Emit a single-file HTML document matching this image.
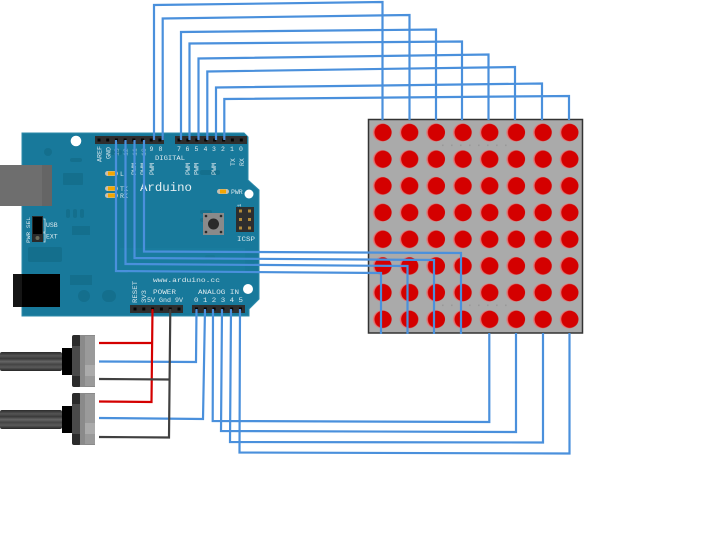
<!DOCTYPE html>
<html><head><meta charset="utf-8"><style>
html,body{margin:0;padding:0;background:#fff;}
svg{display:block;}
.t{font-family:"Liberation Mono","DejaVu Sans Mono",monospace;fill:#dbe9ee;}
</style></head><body>
<svg width="725" height="560" viewBox="0 0 725 560" xmlns="http://www.w3.org/2000/svg">
<defs>
<pattern id="leds" patternUnits="userSpaceOnUse" x="369.35" y="119.15" width="26.69" height="26.69">
<circle cx="12.6" cy="13.35" r="9" fill="#e27575"/>
<circle cx="13.7" cy="13.35" r="8.6" fill="#d40000"/>
</pattern>
<linearGradient id="shaft" x1="0" y1="0" x2="0" y2="1">
<stop offset="0" stop-color="#2a2a2a"/><stop offset="0.2" stop-color="#555"/>
<stop offset="0.35" stop-color="#3a3a3a"/><stop offset="0.5" stop-color="#666"/>
<stop offset="0.65" stop-color="#444"/><stop offset="0.8" stop-color="#5a5a5a"/>
<stop offset="1" stop-color="#262626"/></linearGradient>
</defs>

<!-- Arduino board -->
<polygon points="22,133 244,133 248,137 248,180 259,190 259,299 249,309 249,316 22,316" fill="#18799b" stroke="#2d8aaa" stroke-width="1"/>
<g fill="#146f8d">
<rect x="63" y="173" width="20" height="12" rx="1"/>
<rect x="28" y="247" width="34" height="15" rx="2"/>
<rect x="72" y="226" width="18" height="9"/>
<rect x="70" y="275" width="22" height="10"/>
<rect x="66" y="209" width="4" height="9" rx="2"/><rect x="73" y="209" width="4" height="9" rx="2"/><rect x="80" y="209" width="4" height="9" rx="2"/>
<circle cx="48" cy="152" r="4"/>
<rect x="78" y="290" width="12" height="12" rx="6"/><rect x="102" y="290" width="14" height="12" rx="6"/>
<rect x="110" y="150" width="12" height="5" rx="2"/><rect x="70" y="158" width="12" height="4" rx="2"/>
<rect x="200" y="170" width="20" height="5" rx="2"/><rect x="205" y="255" width="10" height="5" rx="2"/>
<rect x="200" y="210" width="12" height="4" rx="2"/><rect x="200" y="218" width="12" height="4" rx="2"/>
</g>
<rect x="120" y="248" width="125" height="25" fill="#1b7fa0" opacity="0.6"/>
<circle cx="76" cy="141" r="5.3" fill="#fff"/>
<circle cx="249" cy="194" r="4.5" fill="#fff"/>
<circle cx="248" cy="289" r="5" fill="#fff"/>

<!-- USB & power jack (on top of board) -->
<rect x="0" y="165" width="52" height="41" fill="#6e6e6e"/>
<rect x="42" y="165" width="10" height="41" fill="#656565"/>
<rect x="13" y="274" width="47" height="33" fill="#000"/>
<rect x="13" y="274" width="9" height="33" fill="#151515"/>

<!-- headers -->
<rect x="95" y="136" width="69" height="8" fill="#2e2e2e"/>
<rect x="175" y="136" width="72" height="8" fill="#2e2e2e"/>
<g fill="#050505">
<rect x="97.5" y="138.5" width="3" height="3"/><rect x="106.2" y="138.5" width="3" height="3"/><rect x="114.9" y="138.5" width="3" height="3"/><rect x="123.6" y="138.5" width="3" height="3"/><rect x="132.3" y="138.5" width="3" height="3"/><rect x="141" y="138.5" width="3" height="3"/><rect x="149.7" y="138.5" width="3" height="3"/><rect x="158.4" y="138.5" width="3" height="3"/>
<rect x="177.5" y="138.5" width="3" height="3"/><rect x="186.4" y="138.5" width="3" height="3"/><rect x="195.3" y="138.5" width="3" height="3"/><rect x="204.2" y="138.5" width="3" height="3"/><rect x="213.1" y="138.5" width="3" height="3"/><rect x="222" y="138.5" width="3" height="3"/><rect x="230.9" y="138.5" width="3" height="3"/><rect x="239.8" y="138.5" width="3" height="3"/>
</g>
<rect x="130" y="305" width="53" height="8" fill="#2e2e2e"/>
<rect x="192" y="305" width="53" height="8" fill="#2e2e2e"/>
<g fill="#050505">
<rect x="133.5" y="307.5" width="3" height="3"/><rect x="142.3" y="307.5" width="3" height="3"/><rect x="151.1" y="307.5" width="3" height="3"/><rect x="159.9" y="307.5" width="3" height="3"/><rect x="168.7" y="307.5" width="3" height="3"/><rect x="177.5" y="307.5" width="3" height="3"/>
<rect x="195" y="307.5" width="3" height="3"/><rect x="203.8" y="307.5" width="3" height="3"/><rect x="212.6" y="307.5" width="3" height="3"/><rect x="221.4" y="307.5" width="3" height="3"/><rect x="230.2" y="307.5" width="3" height="3"/><rect x="239" y="307.5" width="3" height="3"/>
</g>

<!-- LEDs on board -->
<g>
<rect x="105" y="171" width="13" height="5" rx="2.5" fill="#c9c0b0"/><rect x="108" y="171.5" width="7" height="4" fill="#f3a600"/>
<rect x="105" y="186" width="13" height="5" rx="2.5" fill="#c9c0b0"/><rect x="108" y="186.5" width="7" height="4" fill="#f3a600"/>
<rect x="105" y="193" width="13" height="5" rx="2.5" fill="#c9c0b0"/><rect x="108" y="193.5" width="7" height="4" fill="#f3a600"/>
<rect x="217" y="189" width="12" height="5" rx="2.5" fill="#c9c0b0"/><rect x="220" y="189.5" width="6" height="4" fill="#f3a600"/>
</g>

<!-- reset button -->
<rect x="203" y="213" width="21" height="22" fill="#8a8a8a"/>
<circle cx="213.5" cy="224" r="5.5" fill="#2a2a2a"/>
<g fill="#2a2a2a"><circle cx="206" cy="216" r="1.3"/><circle cx="221" cy="216" r="1.3"/><circle cx="206" cy="232" r="1.3"/><circle cx="221" cy="232" r="1.3"/></g>
<!-- ICSP -->
<rect x="236" y="207" width="18" height="25" fill="#2e2e2e"/>
<g fill="#b08a3a"><rect x="239" y="209.5" width="3" height="3"/><rect x="248" y="209.5" width="3" height="3"/><rect x="239" y="218" width="3" height="3"/><rect x="248" y="218" width="3" height="3"/><rect x="239" y="226.5" width="3" height="3"/><rect x="248" y="226.5" width="3" height="3"/></g>
<!-- PWR SEL jumper -->
<rect x="32" y="216" width="11" height="26" fill="#2a2a2a"/>
<rect x="33" y="217" width="9" height="17" fill="#000"/>
<circle cx="37.5" cy="238" r="2" fill="#6a6a5a"/>
<path d="M43.5,219 h1.5 v13 h-1.5 M43.5,233 h1.5 v9 h-1.5" fill="none" stroke="#dbe9ee" stroke-width="0.8"/>

<!-- board text -->
<g class="t" font-size="6.5">
<text transform="translate(101.5,162) rotate(-90)" textLength="16" lengthAdjust="spacingAndGlyphs">AREF</text>
<text transform="translate(110.5,159) rotate(-90)" textLength="12" lengthAdjust="spacingAndGlyphs">GND</text>
<text transform="translate(119,156) rotate(-90)" opacity="0.55">13</text>
<text transform="translate(128,156) rotate(-90)" opacity="0.55">12</text>
<text transform="translate(137,156) rotate(-90)" opacity="0.55">11</text>
<text transform="translate(146,156) rotate(-90)" opacity="0.55">10</text>
<text x="149.5" y="151">9</text><text x="158.5" y="151">8</text>
<text x="177" y="151">7</text><text x="185.5" y="151">6</text><text x="194.5" y="151">5</text><text x="203.5" y="151">4</text><text x="212" y="151">3</text><text x="221" y="151">2</text><text x="230" y="151">1</text><text x="239" y="151">0</text>
<text transform="translate(235,166) rotate(-90)">TX</text>
<text transform="translate(244,166) rotate(-90)">RX</text>
<text x="155" y="160" textLength="30" lengthAdjust="spacingAndGlyphs">DIGITAL</text>
<text transform="translate(136,175) rotate(-90)" textLength="12" lengthAdjust="spacingAndGlyphs">PWM</text>
<text transform="translate(145,175) rotate(-90)" textLength="12" lengthAdjust="spacingAndGlyphs">PWM</text>
<text transform="translate(154,175) rotate(-90)" textLength="12" lengthAdjust="spacingAndGlyphs">PWM</text>
<text transform="translate(190,175) rotate(-90)" textLength="12" lengthAdjust="spacingAndGlyphs">PWM</text>
<text transform="translate(198.5,175) rotate(-90)" textLength="12" lengthAdjust="spacingAndGlyphs">PWM</text>
<text transform="translate(216,175) rotate(-90)" textLength="12" lengthAdjust="spacingAndGlyphs">PWM</text>
<text x="120" y="176">L</text>
<text x="120" y="191">TX</text>
<text x="120" y="198">RX</text>
<text x="231" y="194">PWR</text>
<text x="237" y="241" textLength="18" lengthAdjust="spacingAndGlyphs">ICSP</text>
<text transform="translate(241,207) rotate(-90)" font-size="5.5">1</text>
<text x="46" y="227">USB</text>
<text x="46" y="238.5">EXT</text>
<text transform="translate(30,243) rotate(-90)" font-size="5.5" textLength="26" lengthAdjust="spacingAndGlyphs">PWR SEL</text>
<text x="153" y="282" textLength="67" lengthAdjust="spacingAndGlyphs">www.arduino.cc</text>
<text transform="translate(137,303) rotate(-90)" textLength="22" lengthAdjust="spacingAndGlyphs">RESET</text>
<text transform="translate(146,303) rotate(-90)" textLength="13" lengthAdjust="spacingAndGlyphs">3V3</text>
<text x="153" y="294" textLength="23" lengthAdjust="spacingAndGlyphs">POWER</text>
<text x="147" y="302" textLength="36" lengthAdjust="spacingAndGlyphs">5V Gnd 9V</text>
<text x="198" y="294" textLength="41" lengthAdjust="spacingAndGlyphs">ANALOG IN</text>
<text x="194" y="302" textLength="49" lengthAdjust="spacingAndGlyphs">0 1 2 3 4 5</text>
</g>
<text x="140" y="191" font-family="'Liberation Mono','DejaVu Sans Mono',monospace" font-size="12" fill="#e6f0f3" textLength="52" lengthAdjust="spacingAndGlyphs">Arduino</text>

<!-- LED matrix -->
<rect x="368.5" y="119.5" width="214" height="213.5" fill="#aaaaaa" stroke="#333" stroke-width="1.5"/>
<rect x="369.3" y="120.3" width="212.4" height="212" fill="url(#leds)"/>
<g fill="#999">
<rect x="442" y="144.5" width="1.6" height="1.6"/><rect x="451" y="144.5" width="1.6" height="1.6"/><rect x="460" y="144.5" width="1.6" height="1.6"/><rect x="469" y="144.5" width="1.6" height="1.6"/><rect x="478" y="144.5" width="1.6" height="1.6"/><rect x="487" y="144.5" width="1.6" height="1.6"/><rect x="496" y="144.5" width="1.6" height="1.6"/><rect x="505" y="144.5" width="1.6" height="1.6"/>
<rect x="442" y="304.5" width="1.6" height="1.6"/><rect x="451" y="304.5" width="1.6" height="1.6"/><rect x="460" y="304.5" width="1.6" height="1.6"/><rect x="469" y="304.5" width="1.6" height="1.6"/><rect x="478" y="304.5" width="1.6" height="1.6"/><rect x="487" y="304.5" width="1.6" height="1.6"/><rect x="496" y="304.5" width="1.6" height="1.6"/><rect x="505" y="304.5" width="1.6" height="1.6"/>
</g>

<!-- potentiometers -->
<g>
<rect x="0" y="352" width="62" height="19" rx="2" fill="url(#shaft)"/>
<rect x="62" y="348" width="11" height="27" fill="#000"/>
<rect x="72" y="335" width="9" height="52" rx="2" fill="#2b2b2b"/>
<rect x="72" y="346" width="8" height="30" fill="#4a4a4a"/>
<rect x="80" y="335" width="15" height="52" fill="#8a8a8a"/>
<rect x="85" y="336" width="10" height="50" fill="#9a9a9a"/>
<rect x="85" y="365" width="10" height="11" fill="#ababab"/>
</g>
<g transform="translate(0,58)">
<rect x="0" y="352" width="62" height="19" rx="2" fill="url(#shaft)"/>
<rect x="62" y="348" width="11" height="27" fill="#000"/>
<rect x="72" y="335" width="9" height="52" rx="2" fill="#2b2b2b"/>
<rect x="72" y="346" width="8" height="30" fill="#4a4a4a"/>
<rect x="80" y="335" width="15" height="52" fill="#8a8a8a"/>
<rect x="85" y="336" width="10" height="50" fill="#9a9a9a"/>
<rect x="85" y="365" width="10" height="11" fill="#ababab"/>
</g>

<!-- wires -->
<g fill="none" stroke="#4a90dc" stroke-width="2.2" stroke-linejoin="miter">
<polyline points="154,140 154,5 382.5,2 382.5,120"/>
<polyline points="162.7,140 162.7,18.5 409.5,15 409.5,120"/>
<polyline points="181,140 181,32 436,29.5 436,120"/>
<polyline points="189.5,140 189.5,43.5 462,41.5 462,120"/>
<polyline points="198.5,140 198.5,58.5 488.5,54.5 488.5,120"/>
<polyline points="207.3,140 207.3,71.5 515,67 515,120"/>
<polyline points="216,140 216,87.5 542,83.5 542,120"/>
<polyline points="224.3,140 224.3,99 569,96 569,120"/>

<polyline points="144,140 144,251.5 461,253 461,334"/>
<polyline points="134.5,140 134.5,258 434,260 434,334"/>
<polyline points="125.5,140 125.5,264 407.5,266 407.5,334"/>
<polyline points="116,140 116,271 381,273 381,334"/>

<polyline points="213,309 212.7,421 489.3,422 489.3,333"/>
<polyline points="222,309 221,431 516,432 516,333"/>
<polyline points="231,309 230,442 543,442.5 543,333"/>
<polyline points="240,309 239.5,452.5 569.5,453.5 569.5,333"/>
<polyline points="196.5,309 196,362 99,361.5"/>
<polyline points="205,309 203,419 99,418"/>
</g>
<g fill="none" stroke="#d40000" stroke-width="2.2">
<polyline points="152.5,309 151.5,402 99,401.5"/>
<polyline points="99,343 151.8,343"/>
</g>
<g fill="none" stroke="#404040" stroke-width="2.2">
<polyline points="170.3,309 169,437.5 99,437"/>
<polyline points="99,379 169.5,379.5"/>
</g>
</svg>
</body></html>
